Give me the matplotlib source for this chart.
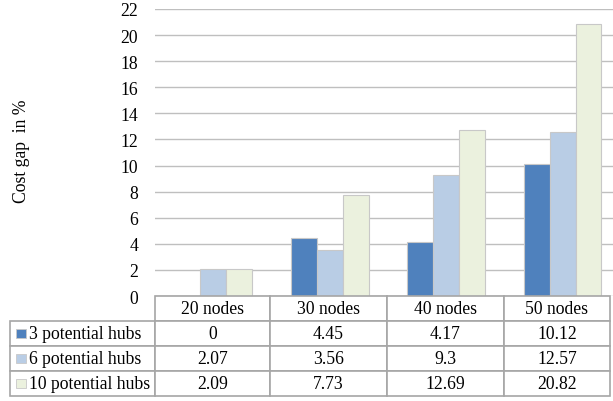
import matplotlib
matplotlib.use("Agg")
import matplotlib.pyplot as plt
from matplotlib.patches import Rectangle
import numpy as np

plt.rcParams['font.family'] = ['Liberation Serif', 'DejaVu Serif']

categories = ["20 nodes", "30 nodes", "40 nodes", "50 nodes"]
series_names = ["3 potential hubs", "6 potential hubs", "10 potential hubs"]
hubs3 = [0, 4.45, 4.17, 10.12]
hubs6 = [2.07, 3.56, 9.3, 12.57]
hubs10 = [2.09, 7.73, 12.69, 20.82]
table_text = [["0", "4.45", "4.17", "10.12"],
              ["2.07", "3.56", "9.3", "12.57"],
              ["2.09", "7.73", "12.69", "20.82"]]
yticks = list(range(0, 23, 2))

colors = ["#4F81BD", "#B9CDE5", "#EBF1DE"]
FS = 12.7
W, H = 613, 402
fig = plt.figure(figsize=(W / 100, H / 100), dpi=100)

# main plot axes (px coords converted)
left, right, top, bottom = 155, 620.75, 10, 297
ax = fig.add_axes([left / W, 1 - bottom / H, (right - left) / W, (bottom - top) / H])
x = np.arange(len(categories))
bw = 0.223
for i, (vals, c) in enumerate(zip([hubs3, hubs6, hubs10], colors)):
    ax.bar(x + (i - 1) * bw, vals, width=bw, color=c, edgecolor="#C8C8C8",
           linewidth=0.8, zorder=3)
ax.set_xlim(-0.5, 3.5)
ax.set_ylim(0, 22)
ax.set_yticks(yticks)
ax.set_yticklabels([str(t) for t in yticks], fontsize=FS)
ax.tick_params(axis="y", length=0, pad=12.2)
ax.set_xticks([])
ax.grid(axis="y", color="#BFBFBF", linewidth=1.0, zorder=0)
for s in ax.spines.values():
    s.set_visible(False)
fig.text(22 / W, 1 - 151 / H, "Cost gap  in %", rotation=90, ha="center",
         va="center", fontsize=FS)

# table axes
tl, tr, tt, tb = 10, 610, 297, 397
tax = fig.add_axes([tl / W, 1 - tb / H, (tr - tl) / W, (tb - tt) / H])
tax.set_axis_off()
tax.set_xlim(0, 1)
tax.set_ylim(0, 1)
cell_text = [[""] + categories] + [[n] + row for n, row in zip(series_names, table_text)]
col_px = [145, 115, 117, 117, 106]
tot = sum(col_px)
tbl = tax.table(cellText=cell_text, colWidths=[c / tot for c in col_px],
                cellLoc="center", bbox=[0, 0, 1, 1])
tbl.auto_set_font_size(False)
for (r, c), cell in tbl.get_celld().items():
    cell.set_edgecolor("#A6A6A6")
    cell.set_linewidth(1.2)
    cell.get_text().set_fontsize(FS)
    if r == 0 and c == 0:
        cell.visible_edges = "open"
    if c == 0 and r > 0:
        cell.get_text().set_ha("left")
        cell._loc = "left"
        cell.PAD = 19 / 145
# legend keys
for i, c in enumerate(colors):
    yc = 1 - (25 + 25 * i + 12.5) / 100
    tax.add_patch(Rectangle((6 / 600, yc - 4.5 / 100), 9.5 / 600, 9 / 100,
                            facecolor=c, edgecolor="#C8C8C8", linewidth=0.6,
                            transform=tax.transAxes, clip_on=False, zorder=5))

fig.savefig("out.png", dpi=100)
